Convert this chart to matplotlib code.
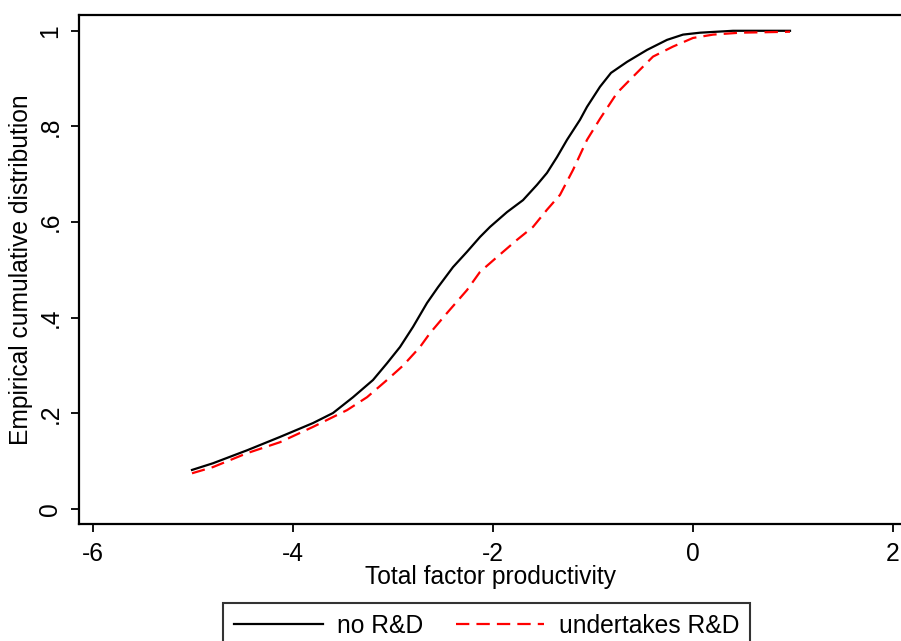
import matplotlib
matplotlib.use("Agg")
import matplotlib.pyplot as plt

plt.rcParams["font.family"] = ["Liberation Sans", "DejaVu Sans"]

# Empirical CDF of TFP, firms without R&D
tfp_no_rd = [-5.01, -4.80, -4.46, -4.13, -3.80, -3.60, -3.40, -3.20, -3.06, -2.93,
             -2.80, -2.66, -2.55, -2.40, -2.26, -2.13, -2.03, -1.86, -1.70, -1.56,
             -1.46, -1.36, -1.26, -1.13, -1.06, -0.93, -0.82, -0.66, -0.46, -0.26,
             -0.10, 0.07, 0.40, 0.97]
cdf_no_rd = [0.082, 0.096, 0.123, 0.151, 0.180, 0.201, 0.234, 0.270, 0.305, 0.339,
             0.381, 0.431, 0.464, 0.506, 0.538, 0.569, 0.590, 0.621, 0.646, 0.678,
             0.703, 0.736, 0.772, 0.814, 0.841, 0.883, 0.912, 0.935, 0.960, 0.981,
             0.992, 0.996, 1.000, 1.000]

# Empirical CDF of TFP, firms undertaking R&D
tfp_rd = [-5.01, -4.80, -4.46, -4.13, -3.80, -3.46, -3.26, -3.06, -2.90, -2.73,
          -2.63, -2.46, -2.26, -2.13, -1.96, -1.76, -1.60, -1.46, -1.33, -1.20,
          -1.06, -0.93, -0.76, -0.60, -0.40, -0.20, 0.00, 0.20, 0.47, 0.97]
cdf_rd = [0.075, 0.088, 0.117, 0.140, 0.172, 0.207, 0.234, 0.270, 0.300, 0.339,
          0.368, 0.410, 0.458, 0.496, 0.527, 0.563, 0.590, 0.626, 0.657, 0.709,
          0.772, 0.816, 0.870, 0.904, 0.946, 0.967, 0.985, 0.992, 0.996, 0.998]

x_ticks = [-6, -4, -2, 0, 2]
x_tick_labels = ["-6", "-4", "-2", "0", "2"]
y_ticks = [0, 0.2, 0.4, 0.6, 0.8, 1.0]
y_tick_labels = ["0", ".2", ".4", ".6", ".8", "1"]

W, H = 901, 641
fig = plt.figure(figsize=(W / 100, H / 100), dpi=100)
fig.patch.set_facecolor("white")

left, right, top, bottom = 79, 903, 15, 524
ax = fig.add_axes([left / W, 1 - bottom / H, (right - left) / W, (bottom - top) / H])

ax.plot(tfp_no_rd, cdf_no_rd, color="black", lw=1.6, label="no R&D")
ax.plot(tfp_rd, cdf_rd, color="#ff0000", lw=1.6, dashes=(6, 3.2), label="undertakes R&D")

ax.set_xlim(-6.14, 2.10)
ax.set_ylim(-0.031, 1.033)

fs = 17.7
ax.set_xticks(x_ticks)
ax.set_xticklabels(x_tick_labels, fontsize=fs)
ax.set_yticks(y_ticks)
ax.set_yticklabels(y_tick_labels, fontsize=fs, rotation=90, va="center")
ax.tick_params(axis="both", length=6, width=1.3, color="black")
ax.tick_params(axis="x", pad=7)
ax.tick_params(axis="y", pad=6)

for s in ax.spines.values():
    s.set_linewidth(1.6)
    s.set_color("black")

ax.set_xlabel("Total factor productivity", fontsize=fs, labelpad=-0.5)
ax.set_ylabel("Empirical cumulative distribution", fontsize=fs, labelpad=4)

leg = ax.legend(loc="upper left", bbox_to_anchor=(223 / W, 1 - 603 / H),
                bbox_transform=fig.transFigure, ncol=2, fontsize=fs,
                frameon=True, fancybox=False, edgecolor="black",
                borderpad=0.45, borderaxespad=0, handlelength=3.6,
                handletextpad=0.6, columnspacing=1.3)
leg.get_frame().set_linewidth(1.5)

fig.savefig("out.png", dpi=100, facecolor="white")
